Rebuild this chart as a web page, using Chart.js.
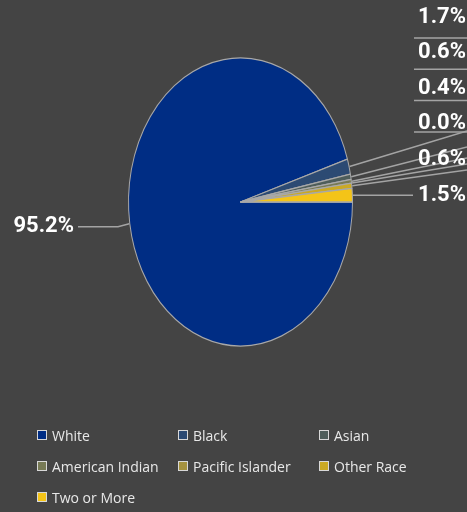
<!DOCTYPE html>
<html>
<head>
<meta charset="utf-8">
<script src="https://cdn.jsdelivr.net/npm/chart.js@4.4.1/dist/chart.umd.min.js"></script>
<style>
  body { margin: 0; background: #444444; }
  #wrap { position: relative; width: 467px; height: 512px; overflow: hidden; }
  #legend {
    position: absolute; left: 37px; top: 424px;
    display: grid; grid-template-columns: 141px 141px 141px; grid-auto-rows: 31px;
    font: 14px "Open Sans", sans-serif; color: #e8e8e8;
  }
  .item { display: flex; align-items: center; height: 22px; }
  .box { width: 8px; height: 8px; border: 1px solid #d8d8d8; margin-right: 5px; }
</style>
</head>
<body>
<div id="wrap">
  <canvas id="pieChart"></canvas>
  <div id="legend"></div>
</div>
<script>
const categories = ['White', 'Black', 'Asian', 'American Indian', 'Pacific Islander', 'Other Race', 'Two or More'];
const shares = [95.2, 1.7, 0.6, 0.4, 0.0, 0.6, 1.5];
const sliceColors = ['#002d84', '#2c4a73', '#4e5d5a', '#777a55', '#a5923f', '#caa924', '#f4c418'];

const SY = 1.286; // pie is drawn as an ellipse (taller than wide)
const rowTop = 17, rowGap = 35.5;     // right-hand label column
const lineTop = 38, lineGap = 31.3;   // underlines under the top labels
const leaderEnds = [131, 147, 158, 164, 170];

// stretch the pie vertically around its centre
const stretchPie = {
    id: 'stretchPie',
    beforeDatasetsDraw(chart) {
        const a = chart.getDatasetMeta(0).data[0];
        const ctx = chart.ctx;
        ctx.save();
        ctx.translate(a.x, a.y);
        ctx.scale(1, SY);
        ctx.translate(-a.x, -a.y);
    },
    afterDatasetsDraw(chart) {
        chart.ctx.restore();
    }
};

// percentage labels with leader lines
const pctLabels = {
    id: 'pctLabels',
    afterDraw(chart) {
        const ctx = chart.ctx;
        const W = chart.width;
        ctx.save();
        ctx.font = 'bold 22px Roboto, sans-serif';
        ctx.fillStyle = '#ffffff';
        ctx.textBaseline = 'middle';
        ctx.strokeStyle = '#a4a4a4';
        ctx.lineWidth = 1.5;

        chart.getDatasetMeta(0).data.forEach((arc, i) => {
            const p = arc.getProps(['x', 'y', 'startAngle', 'endAngle', 'outerRadius'], true);
            const mid = (p.startAngle + p.endAngle) / 2;
            const ex = p.x + (p.outerRadius + 0.5) * Math.cos(mid);
            const ey = p.y + SY * (p.outerRadius + 0.5) * Math.sin(mid);
            const txt = shares[i].toFixed(1) + '%';

            if (i === 0) {
                ctx.textAlign = 'right';
                ctx.fillText(txt, 74, ey + 3);
                ctx.beginPath();
                ctx.moveTo(ex, ey);
                ctx.lineTo(118, ey + 3);
                ctx.lineTo(78, ey + 3);
                ctx.stroke();
                return;
            }
            const j = i - 1;
            ctx.textAlign = 'right';
            if (j === 5) {
                ctx.fillText(txt, 466, ey);
                ctx.beginPath();
                ctx.moveTo(ex, ey);
                ctx.lineTo(413, ey);
                ctx.stroke();
                return;
            }
            ctx.fillText(txt, 466, rowTop + j * rowGap);
            if (j < 4) {
                ctx.beginPath();
                ctx.moveTo(414, lineTop + j * lineGap);
                ctx.lineTo(W, lineTop + j * lineGap);
                ctx.stroke();
            }
            ctx.beginPath();
            ctx.moveTo(ex, ey);
            ctx.lineTo(W, leaderEnds[j]);
            ctx.stroke();
        });
        ctx.restore();
    }
};

const chart = new Chart(document.getElementById('pieChart'), {
    type: 'pie',
    data: {
        labels: categories,
        datasets: [{
            data: shares,
            backgroundColor: sliceColors,
            borderColor: '#a8a8a8',
            borderWidth: 1,
            clip: false
        }]
    },
    options: {
        responsive: true,
        maintainAspectRatio: false,
        animation: false,
        rotation: 90,
        layout: { padding: { left: 128, right: 114, top: 89.5, bottom: 197.5 } },
        plugins: {
            legend: { display: false },
            tooltip: { enabled: false }
        }
    },
    plugins: [stretchPie, pctLabels]
});

// html legend in a fixed three-column grid
document.getElementById('legend').innerHTML = categories.map((c, i) =>
    `<div class="item"><span class="box" style="background:${sliceColors[i]}"></span>${c}</div>`
).join('');
</script>
</body>
</html>
